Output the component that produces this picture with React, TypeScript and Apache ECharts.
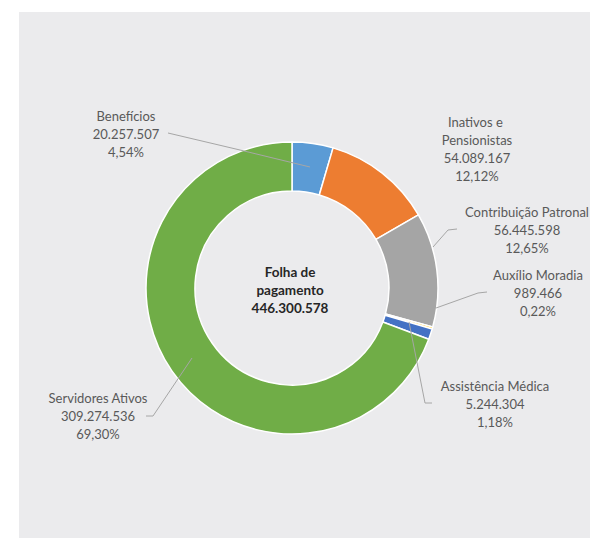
import React, { useEffect, useRef } from "react";
import * as echarts from "echarts";

const categories = [
  "Benefícios",
  "Inativos e Pensionistas",
  "Contribuição Patronal",
  "Auxílio Moradia",
  "Assistência Médica",
  "Servidores Ativos",
];
const values = [20257507, 54089167, 56445598, 989466, 5244304, 309274536];
const colors = ["#5B9BD5", "#ED7D31", "#A5A5A5", "#FFC000", "#4472C4", "#70AD47"];
const centerTitle = ["Folha de", "pagamento"];

// label layout (text block centre x, top y) and leader lines
const labelPos: [number, number][] = [
  [126, 107],
  [477, 113],
  [527, 203],
  [538, 266],
  [495, 377],
  [98, 389],
];
const leaderLines: ([number, number][] | null)[] = [
  [[168, 133], [240, 150], [310, 167]],
  null,
  [[457, 229], [448, 230], [433, 247]],
  [[487, 292], [478, 293], [436, 308]],
  [[432, 403], [425, 403], [409, 322]],
  [[146, 416], [153, 416], [192, 358]],
];

const fmt = (v: number) => String(v).replace(/\B(?=(\d{3})+(?!\d))/g, ".");

export default function App() {
  const ref = useRef<HTMLDivElement>(null);
  useEffect(() => {
    document.body.style.margin = "0";
    const chart = echarts.init(ref.current!, null, { renderer: "svg" });
    const total = values.reduce((a, b) => a + b, 0);
    const font = "Lato, 'Open Sans', sans-serif";
    const pieBase = {
      type: "pie",
      center: [292, 288],
      radius: [97, 146],
      startAngle: 90,
      clockwise: true,
      avoidLabelOverlap: false,
      silent: true,
    };
    chart.setOption({
      animation: false,
      backgroundColor: "#ffffff",
      graphic: [
        {
          type: "rect",
          z: -10,
          shape: { x: 19, y: 12, width: 580, height: 540 },
          style: { fill: "#EBEBED" },
          silent: true,
        },
        {
          type: "text",
          x: 290,
          y: 263,
          z: 10,
          style: {
            text: [...centerTitle, fmt(total)].join("\n"),
            fill: "#262626",
            font: `bold 13.5px ${font}`,
            lineHeight: 18,
            align: "center",
            verticalAlign: "top",
          },
        },
      ],
      series: [
        {
          ...pieBase,
          z: 2,
          itemStyle: { borderColor: "#ffffff", borderWidth: 1.5 },
          label: { show: false },
          labelLine: { show: false },
          data: categories.map((name, i) => ({
            name,
            value: values[i],
            itemStyle: { color: colors[i] },
          })),
        },
        {
          ...pieBase,
          z: 5,
          itemStyle: { color: "rgba(0,0,0,0)", borderWidth: 0 },
          label: {
            show: true,
            position: "outside",
            color: "#595959",
            fontFamily: font,
            fontSize: 13,
            lineHeight: 18,
            align: "center",
            formatter: (p: any) =>
              `${p.name}\n${fmt(p.value)}\n${((p.value / total) * 100).toFixed(2).replace(".", ",")}%`,
          },
          labelLine: { show: true, lineStyle: { color: "#A6A6A6", width: 1 } },
          labelLayout: (params: any) => {
            const i = params.dataIndex;
            const o: any = {
              x: labelPos[i][0],
              y: labelPos[i][1],
              align: "center",
              verticalAlign: "top",
            };
            if (leaderLines[i]) o.labelLinePoints = leaderLines[i];
            return o;
          },
          data: categories.map((name, i) => ({
            name,
            value: values[i],
            label: i === 1 ? { width: 90, overflow: "break" } : undefined,
            labelLine: { show: leaderLines[i] !== null },
          })),
        },
      ],
    });
    return () => chart.dispose();
  }, []);
  return (
    <div
      ref={ref}
      style={{ position: "absolute", left: 0, top: 0, width: 590, height: 538 }}
    />
  );
}
